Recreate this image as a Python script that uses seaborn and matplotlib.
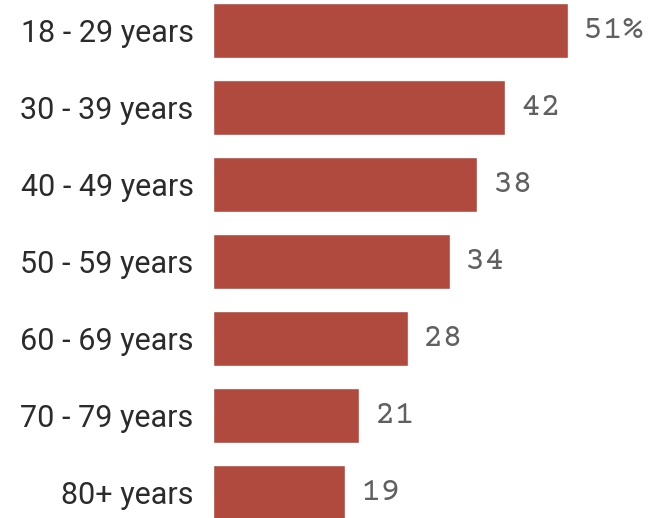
import matplotlib
matplotlib.use("Agg")
import matplotlib.pyplot as plt
import seaborn as sns
import pandas as pd

categories = ["18 - 29 years", "30 - 39 years", "40 - 49 years", "50 - 59 years",
              "60 - 69 years", "70 - 79 years", "80+ years"]
values = [51, 42, 38, 34, 28, 21, 19]
value_labels = ["51%", "42", "38", "34", "28", "21", "19"]

df = pd.DataFrame({"age": categories, "pct": values})

sns.set_style("white")
fig = plt.figure(figsize=(6.52, 5.18), dpi=100)
left_px = 213
ax = fig.add_axes([left_px / 652, 0, (652 - left_px) / 652, 1])
sns.barplot(data=df, x="pct", y="age", color="#b04a3e", saturation=1,
            width=0.714, ax=ax)

px_per_unit = 6.96
ax.set_xlim(0, (652 - left_px) / px_per_unit)
ax.set_ylim((518 - 30.5) / 77, -30.5 / 77)

for s in ax.spines.values():
    s.set_visible(False)
ax.set_xticks([])
ax.set_xlabel("")
ax.set_ylabel("")
ax.tick_params(axis="y", length=0, pad=14)
for t in ax.get_yticklabels():
    t.set_fontfamily(["Roboto", "DejaVu Sans"])
    t.set_fontsize(22)
    t.set_color("#2b2b2b")

texts = ax.bar_label(ax.containers[0], labels=value_labels, padding=11)
for t in texts:
    t.set_fontfamily(["Courier Prime", "FreeMono", "Liberation Mono", "DejaVu Sans Mono"])
    t.set_fontsize(24.5)
    t.set_color("#606060")

fig.savefig("out.png", dpi=100)
